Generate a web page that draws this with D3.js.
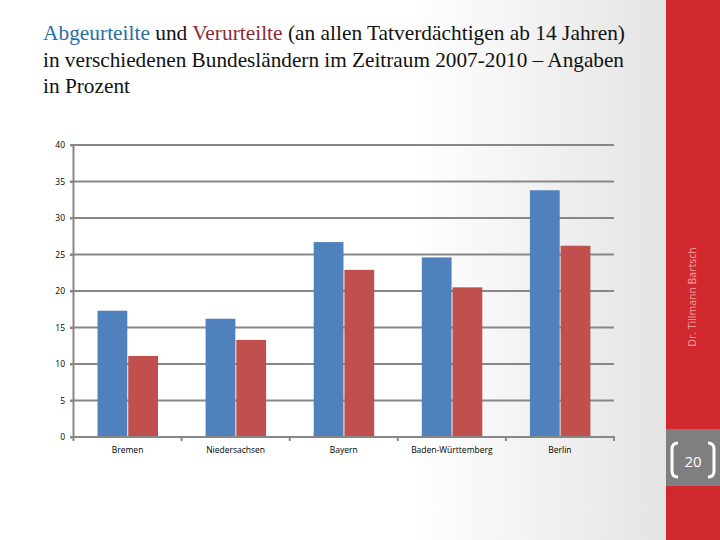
<!DOCTYPE html>
<html><head><meta charset="utf-8">
<script src="https://cdn.jsdelivr.net/npm/d3@7"></script>
<style>body{margin:0;padding:0;}svg{display:block;}</style>
</head><body>
<script>
const categories = ["Bremen", "Niedersachsen", "Bayern", "Baden-Württemberg", "Berlin"];
const abgeurteilte = [17.3, 16.2, 26.7, 24.6, 33.8];
const verurteilte = [11.1, 13.3, 22.9, 20.5, 26.2];
const seriesNames = ["Abgeurteilte", "Verurteilte"];
const seriesColors = ["#4f81bd", "#c0504d"];
const yTicks = [0, 5, 10, 15, 20, 25, 30, 35, 40];

(function () {
const W = 720, H = 540;
const svg = d3.select("body").append("svg").attr("width", W).attr("height", H);
const defs = svg.append("defs");
const grad = defs.append("linearGradient").attr("id", "bg").attr("x1", "0").attr("x2", "1").attr("y1", "0").attr("y2", "0");
grad.append("stop").attr("offset", "0").attr("stop-color", "#ffffff");
grad.append("stop").attr("offset", "0.62").attr("stop-color", "#ffffff");
grad.append("stop").attr("offset", "1").attr("stop-color", "#e4e4e4");
svg.append("rect").attr("width", 666).attr("height", H).attr("fill", "url(#bg)");

// right red band
svg.append("rect").attr("x", 666).attr("y", 0).attr("width", 54).attr("height", H).attr("fill", "#d1282f");
svg.append("rect").attr("x", 666).attr("y", 429).attr("width", 54).attr("height", 57).attr("fill", "#7f7f7f");
svg.append("path").attr("d", "M678,443 Q672,443 672,449 L672,471 Q672,477 678,477")
  .attr("fill", "none").attr("stroke", "#fff").attr("stroke-width", 3);
svg.append("path").attr("d", "M708,443 Q714,443 714,449 L714,471 Q714,477 708,477")
  .attr("fill", "none").attr("stroke", "#fff").attr("stroke-width", 3);
svg.append("text").attr("x", 693).attr("y", 467).attr("text-anchor", "middle")
  .attr("font-family", "Open Sans, sans-serif").attr("font-size", 15).attr("fill", "#fff").text("20");
svg.append("text").attr("transform", "translate(696,297) rotate(-90)").attr("text-anchor", "middle")
  .attr("font-family", "Open Sans, sans-serif").attr("font-size", 10.5).attr("fill", "#f2a3a3").text("Dr. Tillmann Bartsch");

// title
const tf = "Liberation Serif, serif";
const fs = 21.5;
const t1 = svg.append("text").attr("x", 43).attr("y", 40).attr("font-family", tf).attr("font-size", fs)
  .attr("textLength", 582).attr("lengthAdjust", "spacingAndGlyphs");
t1.append("tspan").attr("fill", "#2a6fa0").text("Abgeurteilte");
t1.append("tspan").attr("fill", "#111").text(" und ");
t1.append("tspan").attr("fill", "#8c2a33").text("Verurteilte");
t1.append("tspan").attr("fill", "#111").text(" (an allen Tatverdächtigen ab 14 Jahren)");
svg.append("text").attr("x", 43).attr("y", 67).attr("font-family", tf).attr("font-size", fs).attr("fill", "#111")
  .attr("textLength", 581).attr("lengthAdjust", "spacingAndGlyphs")
  .text("in verschiedenen Bundesländern im Zeitraum 2007-2010 – Angaben");
svg.append("text").attr("x", 43).attr("y", 93).attr("font-family", tf).attr("font-size", fs).attr("fill", "#111")
  .attr("textLength", 87).attr("lengthAdjust", "spacingAndGlyphs")
  .text("in Prozent");

// chart
const pLeft = 73.5, pRight = 614, pTop = 145, pBottom = 437;
const y = d3.scaleLinear().domain([0, 40]).range([pBottom, pTop]);
const x0 = d3.scaleBand().domain(categories).range([pLeft, pRight]).padding(0);
const x1 = d3.scaleBand().domain(seriesNames).range([24, 84.5]).paddingInner(0.03);

const grid = svg.append("g");
grid.selectAll("line").data(yTicks.filter(d => d > 0)).join("line")
  .attr("x1", 70).attr("x2", pRight).attr("y1", d => y(d)).attr("y2", d => y(d))
  .attr("stroke", "#878787").attr("stroke-width", 2);

const data = categories.map((c, i) => ({cat: c, vals: [abgeurteilte[i], verurteilte[i]]}));
const g = svg.append("g");
g.selectAll("g").data(data).join("g")
  .attr("transform", d => `translate(${x0(d.cat)},0)`)
  .selectAll("rect").data(d => d.vals.map((v, j) => ({s: seriesNames[j], v, j})))
  .join("rect")
  .attr("x", d => x1(d.s)).attr("width", x1.bandwidth())
  .attr("y", d => y(d.v)).attr("height", d => y(0) - y(d.v))
  .attr("fill", d => seriesColors[d.j]);

// y axis
const yAxis = d3.axisLeft(y).tickValues(yTicks).tickSize(3.5).tickPadding(5);
const ya = svg.append("g").attr("transform", `translate(${pLeft},0)`).call(yAxis);
ya.select(".domain").attr("stroke", "#878787").attr("stroke-width", 2).attr("d", `M0,${pTop}V${pBottom}`);
ya.selectAll(".tick line").attr("stroke", "#878787").attr("stroke-width", 2);
ya.selectAll(".tick text").attr("font-family", "Open Sans, sans-serif").attr("font-size", 8.5).attr("fill", "#000");

// x axis
const xa = svg.append("g").attr("transform", `translate(0,${pBottom})`);
xa.append("line").attr("x1", 70).attr("x2", pRight + 1).attr("y1", 0).attr("y2", 0).attr("stroke", "#878787").attr("stroke-width", 2);
const bounds = categories.map(c => x0(c)).concat([pRight]);
xa.selectAll("line.t").data(bounds).join("line").attr("class", "t")
  .attr("x1", d => d).attr("x2", d => d).attr("y1", 0).attr("y2", 4)
  .attr("stroke", "#878787").attr("stroke-width", 2);
xa.selectAll("text").data(categories).join("text")
  .attr("x", d => x0(d) + x0.bandwidth() / 2).attr("y", 16)
  .attr("text-anchor", "middle").attr("font-family", "Open Sans, sans-serif").attr("font-size", 8.5).attr("fill", "#000")
  .text(d => d);
})();
</script>
</body></html>
